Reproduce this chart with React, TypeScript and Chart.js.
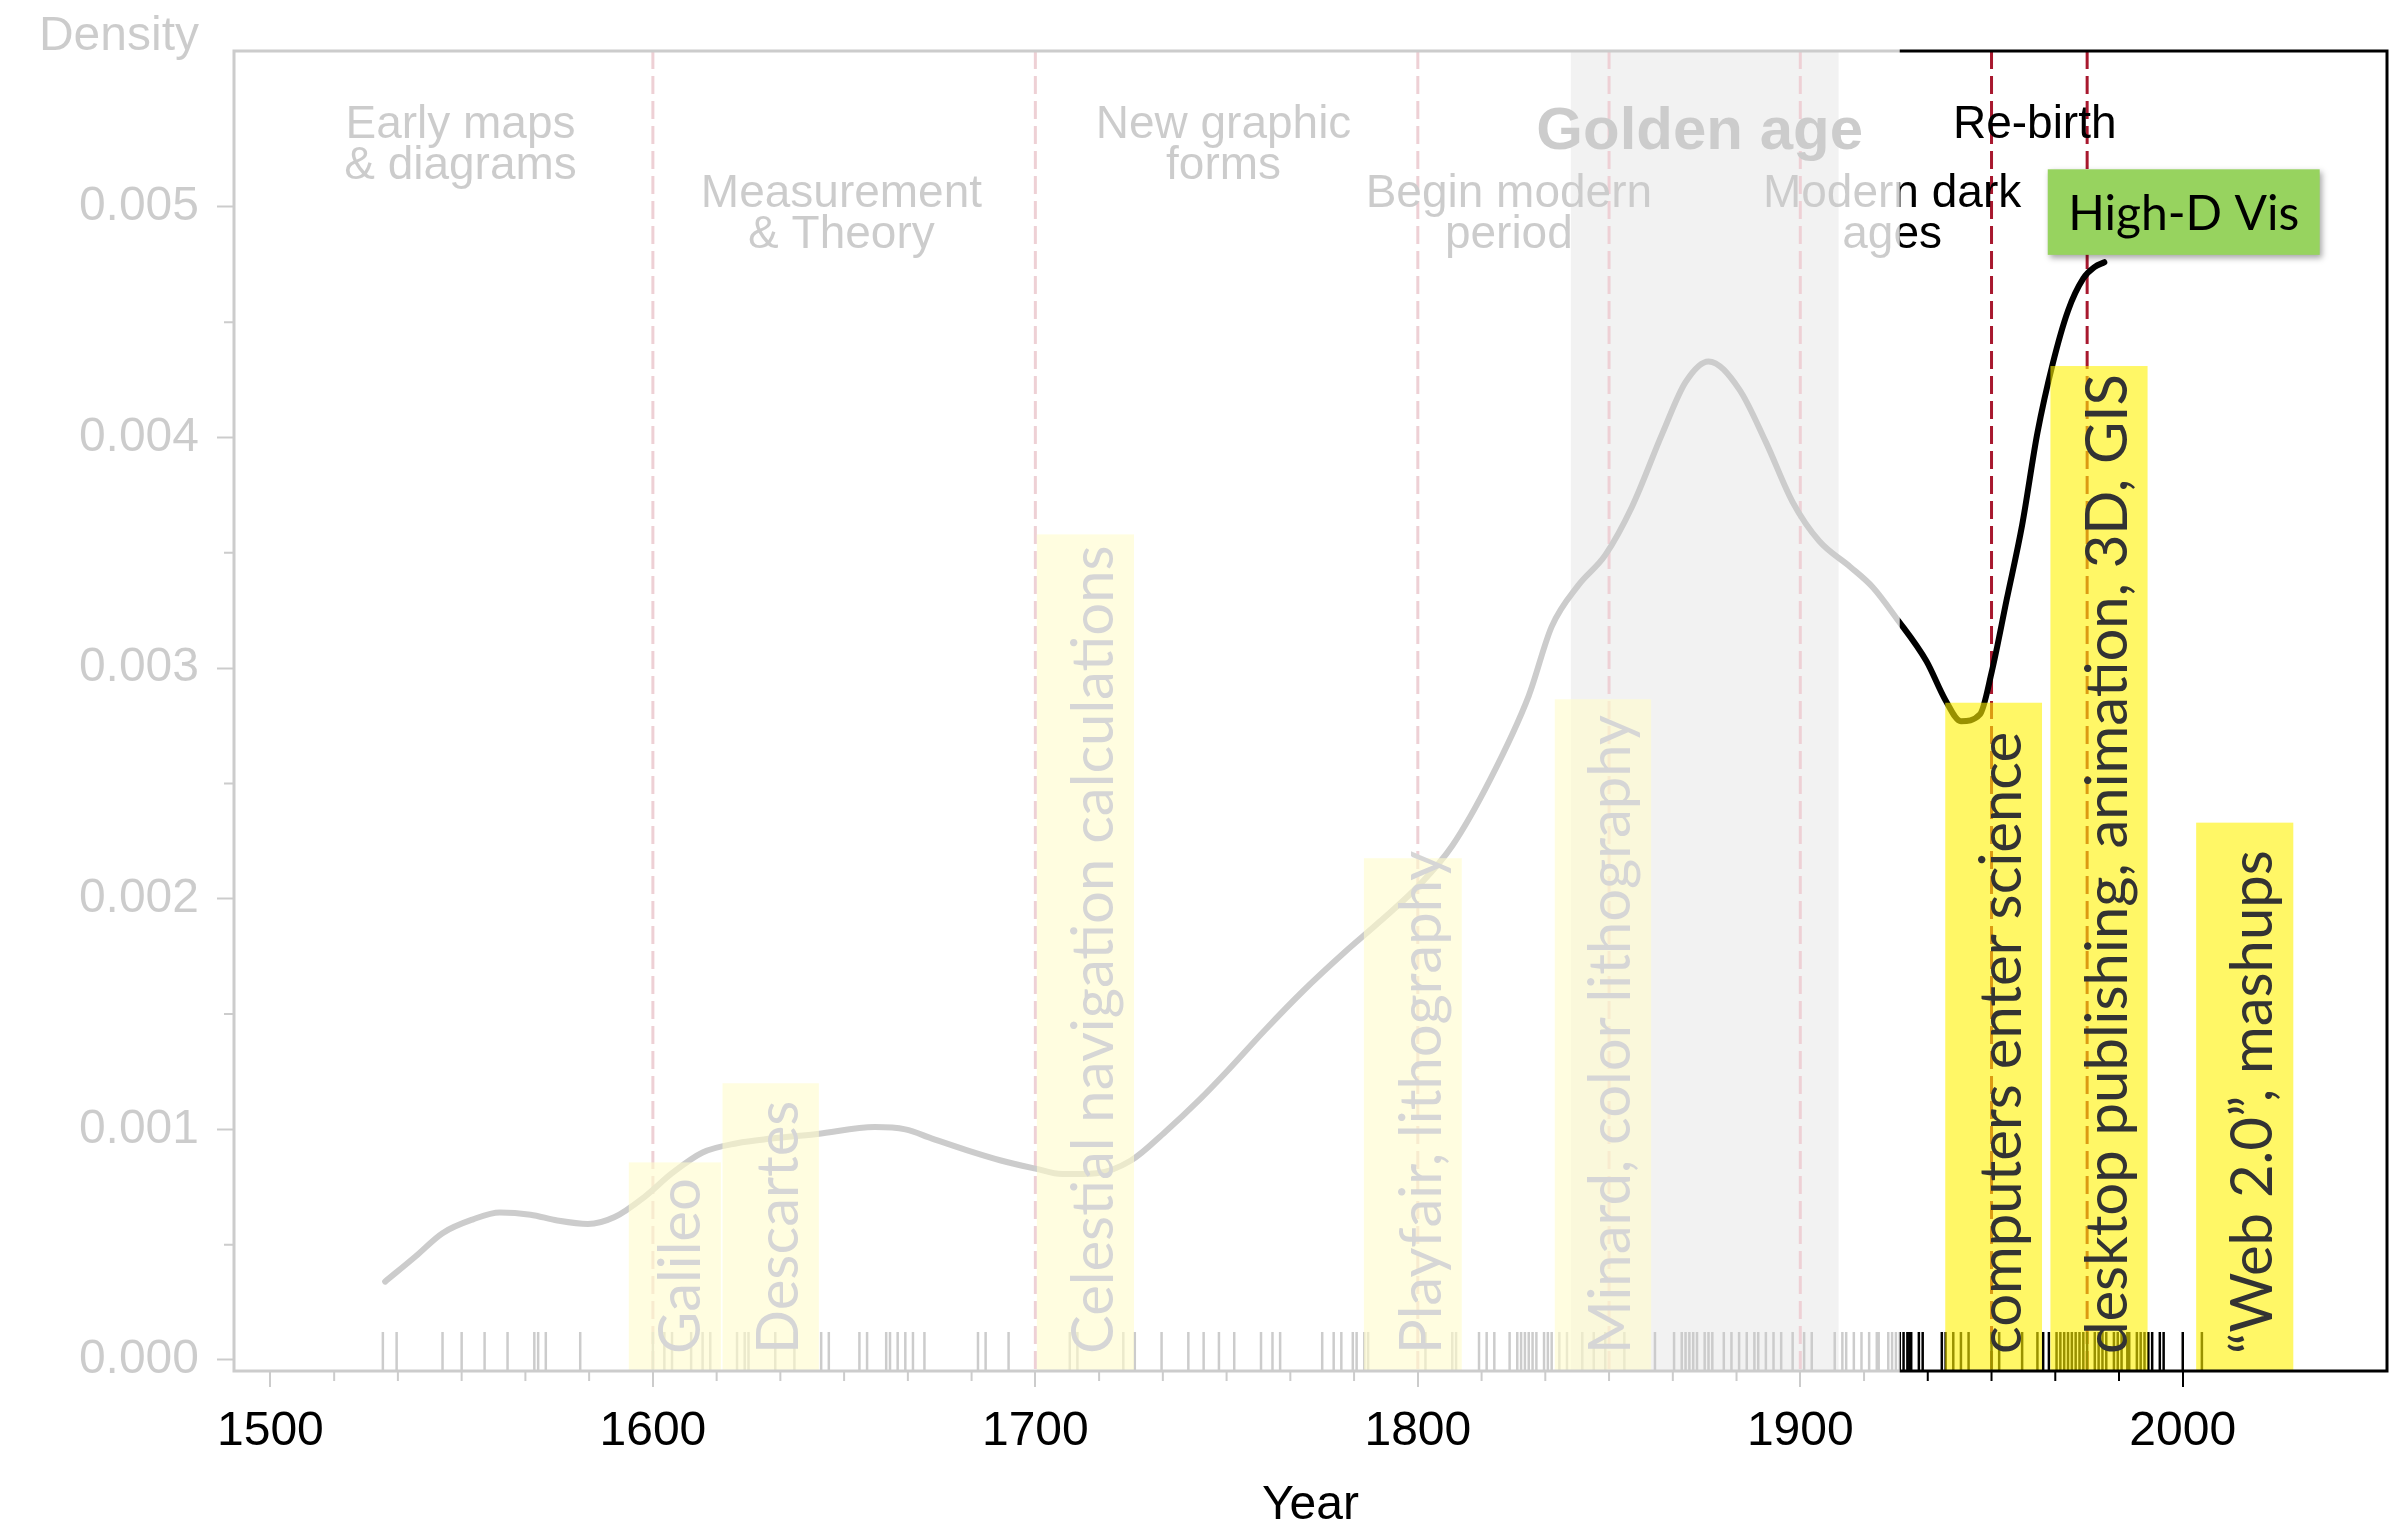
import { useEffect, useRef } from 'react';
import { Chart, registerables } from 'chart.js';

Chart.register(...registerables);

// ---------- data ----------
const CURVE_YEARS = [
  1530, 1538, 1545, 1553, 1560, 1568, 1575, 1583, 1590, 1598, 1605, 1613, 1622, 1631, 1643, 1658,
  1666, 1673, 1682, 1691, 1700, 1707, 1716, 1725, 1734, 1743, 1750, 1760, 1770, 1781, 1790, 1801,
  1809, 1819, 1829, 1835, 1842, 1849, 1856, 1864, 1870, 1876, 1884, 1891, 1898, 1905, 1913, 1919,
  1925, 1933, 1938, 1942, 1947, 1950, 1954, 1958, 1962, 1966, 1970, 1974, 1977, 1979.5,
];
const CURVE_DENSITY = [
  0.00034, 0.00045, 0.00055, 0.00061, 0.00064, 0.00063, 0.000605, 0.00059, 0.00062, 0.00071,
  0.00081, 0.0009, 0.00094, 0.00096, 0.00098, 0.00101, 0.001, 0.00096, 0.00091, 0.000865,
  0.00083, 0.000806, 0.00081, 0.000865, 0.00099, 0.00113, 0.00125, 0.00143, 0.0016, 0.00177,
  0.0019, 0.00207, 0.00223, 0.00252, 0.00288, 0.00318, 0.00336, 0.00349, 0.0037, 0.00402,
  0.00424, 0.00433, 0.00421, 0.00398, 0.00372, 0.00355, 0.00344, 0.00335, 0.00322, 0.00303,
  0.00286, 0.00277, 0.0028, 0.00298, 0.0033, 0.00362, 0.00402, 0.00432, 0.00455, 0.00469,
  0.00474, 0.00476,
];
const EVENT_YEARS = [
  1529.4, 1533, 1545, 1550, 1556, 1562, 1569, 1570, 1572, 1581,
  1600, 1603, 1605, 1610, 1613, 1615, 1622, 1624, 1625, 1632, 1637, 1644, 1646, 1654, 1656,
  1661, 1662, 1664, 1666, 1668, 1671, 1685, 1687, 1693,
  1709, 1711, 1723, 1726, 1733, 1740, 1744, 1748, 1752, 1759, 1762, 1764, 1775, 1778, 1780,
  1783, 1784, 1786, 1787,
  1802, 1809, 1810, 1816, 1818, 1820, 1824, 1826, 1827, 1828, 1829, 1830, 1831, 1833, 1834,
  1835, 1837, 1839, 1843, 1846, 1849, 1854, 1862, 1867, 1869, 1870, 1871, 1872, 1873, 1875,
  1876, 1877, 1880, 1882, 1884, 1886, 1888, 1889,
  1891, 1893, 1895, 1898, 1901, 1903, 1909, 1911, 1912, 1914, 1916, 1918, 1920, 1920.5, 1923,
  1924, 1925,
  1926, 1927, 1928, 1928.5, 1929, 1931, 1932, 1937, 1938, 1940, 1942, 1944, 1950, 1952, 1958,
  1962, 1963.5, 1965, 1967, 1968, 1969, 1970, 1971, 1972, 1973, 1974, 1975, 1977, 1978, 1979,
  1980, 1982, 1983, 1984, 1985.5, 1986, 1988, 1989, 1990, 1991, 1992, 1994, 1995, 2000, 2005,
];
const X_TICK_YEARS = [1500, 1600, 1700, 1800, 1900, 2000];
const X_MINOR_YEARS = [
  1516.67, 1533.33, 1550, 1566.67, 1583.33, 1616.67, 1633.33, 1650, 1666.67, 1683.33,
  1716.67, 1733.33, 1750, 1766.67, 1783.33, 1816.67, 1833.33, 1850, 1866.67, 1883.33,
  1916.67, 1933.33, 1950, 1966.67, 1983.33,
];
const Y_TICK_VALUES = [0, 0.001, 0.002, 0.003, 0.004, 0.005];
const Y_MINOR_VALUES = [0.0005, 0.0015, 0.0025, 0.0035, 0.0045];
const PERIOD_BOUNDARIES = [1600, 1700, 1800, 1850, 1900, 1950, 1975];
const GOLDEN_AGE = [1840, 1910];
const FADE_UNTIL_YEAR = 1926;

const PERIOD_LABELS = [
  { lines: ['Early maps', '& diagrams'], year: 1549.7, row: 0 },
  { lines: ['Measurement', '& Theory'], year: 1649.3, row: 1 },
  { lines: ['New graphic', 'forms'], year: 1749.2, row: 0 },
  { lines: ['Begin modern', 'period'], year: 1823.8, row: 1 },
  { lines: ['Modern dark', 'ages'], year: 1924, row: 1 },
  { lines: ['Re-birth'], year: 1961.3, row: 0 },
];
const GOLDEN_LABEL = { text: 'Golden age', year: 1873.7 };

const NOTE_BOXES = [
  { text: 'Galileo', from: 1593.7, to: 1617.8, top: 0.000857 },
  { text: 'Descartes', from: 1618.2, to: 1643.4, top: 0.0012 },
  { text: 'Celestial navigation calculations', from: 1700.4, to: 1725.8, top: 0.00358 },
  { text: 'Playfair, lithography', from: 1785.9, to: 1811.5, top: 0.002176 },
  { text: 'Minard, color lithography', from: 1835.8, to: 1861, top: 0.002865 },
  { text: 'computers enter science', from: 1937.9, to: 1963.2, top: 0.00285 },
  { text: 'desktop publishing, animation, 3D, GIS', from: 1965.4, to: 1990.8, top: 0.00431 },
  { text: '\u201CWeb 2.0\u201D, mashups', from: 2003.5, to: 2028.9, top: 0.00233 },
];
const HIGHLIGHT = { text: 'High-D Vis', from: 1964.7, to: 2035.8, top: 0.005163, bottom: 0.004792 };

// ---------- layout / style ----------
const X_MIN = 1490.48;
const X_MAX = 2053.4;
const Y_MIN = -0.0000477;
const Y_MAX = 0.005676;
const RUG_Y = 0.0000369;
const ROW_BASELINES = [0.0053, 0.005];
const GOLDEN_BASELINE = 0.005249;
const AXIS_FONT = "'Liberation Sans', Arial, Helvetica, sans-serif";
const NOTE_FONT = "Lato, 'Open Sans', sans-serif";

const annotate = {
  id: 'annotate',
  beforeDatasetsDraw(chart: any) {
    const { ctx, chartArea: a, scales } = chart;
    const x = scales.x;
    ctx.save();
    const g0 = x.getPixelForValue(GOLDEN_AGE[0]);
    const g1 = x.getPixelForValue(GOLDEN_AGE[1]);
    ctx.fillStyle = '#bebebe';
    ctx.fillRect(g0, a.top, g1 - g0, a.bottom - a.top);
    ctx.setLineDash([18, 7]);
    ctx.lineWidth = 3;
    ctx.strokeStyle = '#a8182e';
    for (const yr of PERIOD_BOUNDARIES) {
      const px = x.getPixelForValue(yr);
      ctx.beginPath();
      ctx.moveTo(px, a.top);
      ctx.lineTo(px, a.bottom);
      ctx.stroke();
    }
    ctx.restore();
  },
  afterDatasetsDraw(chart: any) {
    const { ctx, chartArea: a, scales } = chart;
    const x = scales.x;
    const y = scales.y;
    ctx.save();
    // yellow notes
    for (const b of NOTE_BOXES) {
      const x0 = x.getPixelForValue(b.from);
      const x1 = x.getPixelForValue(b.to);
      const top = y.getPixelForValue(b.top);
      ctx.fillStyle = 'rgba(255,242,0,0.6)';
      ctx.fillRect(x0, top, x1 - x0, a.bottom - top);
      ctx.save();
      ctx.translate(x1 - 21, a.bottom - 17);
      ctx.rotate(-Math.PI / 2);
      ctx.fillStyle = '#333333';
      ctx.font = `58px ${NOTE_FONT}`;
      ctx.textAlign = 'left';
      ctx.textBaseline = 'alphabetic';
      ctx.fillText(b.text, 0, 0);
      ctx.restore();
    }
    // period labels
    ctx.fillStyle = '#000';
    ctx.textAlign = 'center';
    ctx.textBaseline = 'alphabetic';
    ctx.font = `46px ${AXIS_FONT}`;
    for (const p of PERIOD_LABELS) {
      const px = x.getPixelForValue(p.year);
      const base = y.getPixelForValue(ROW_BASELINES[p.row]);
      p.lines.forEach((line, i) => ctx.fillText(line, px, base + i * 41));
    }
    ctx.font = `bold 60px ${AXIS_FONT}`;
    ctx.fillText(GOLDEN_LABEL.text, x.getPixelForValue(GOLDEN_LABEL.year), y.getPixelForValue(GOLDEN_BASELINE));
    // High-D Vis box
    {
      const x0 = x.getPixelForValue(HIGHLIGHT.from);
      const x1 = x.getPixelForValue(HIGHLIGHT.to);
      const t = y.getPixelForValue(HIGHLIGHT.top);
      const bt = y.getPixelForValue(HIGHLIGHT.bottom);
      ctx.save();
      ctx.shadowColor = 'rgba(0,0,0,0.35)';
      ctx.shadowBlur = 6;
      ctx.shadowOffsetX = 2;
      ctx.shadowOffsetY = 3;
      ctx.fillStyle = '#97d35f';
      ctx.fillRect(x0, t, x1 - x0, bt - t);
      ctx.restore();
      ctx.fillStyle = '#000';
      ctx.font = `48px ${NOTE_FONT}`;
      ctx.textAlign = 'center';
      ctx.textBaseline = 'middle';
      ctx.fillText(HIGHLIGHT.text, (x0 + x1) / 2, (t + bt) / 2 + 2);
    }
    // plot box
    ctx.strokeStyle = '#000';
    ctx.lineWidth = 3;
    ctx.strokeRect(a.left, a.top, a.right - a.left, a.bottom - a.top);
    // minor ticks
    ctx.lineWidth = 2;
    ctx.beginPath();
    for (const v of X_MINOR_YEARS) {
      const px = x.getPixelForValue(v);
      ctx.moveTo(px, a.bottom);
      ctx.lineTo(px, a.bottom + 10);
    }
    for (const v of Y_MINOR_VALUES) {
      const py = y.getPixelForValue(v);
      ctx.moveTo(a.left - 10, py);
      ctx.lineTo(a.left, py);
    }
    ctx.stroke();
    // Density label
    ctx.fillStyle = '#000';
    ctx.font = `48px ${AXIS_FONT}`;
    ctx.textAlign = 'right';
    ctx.textBaseline = 'alphabetic';
    ctx.fillText('Density', a.left - 35, a.top - 1);
    // fade overlay over the historic part
    ctx.fillStyle = 'rgba(255,255,255,0.8)';
    ctx.fillRect(0, 0, x.getPixelForValue(FADE_UNTIL_YEAR), a.bottom + 28);
    ctx.restore();
  },
};

export default function App() {
  const ref = useRef<HTMLCanvasElement>(null);
  useEffect(() => {
    const canvas = ref.current;
    if (!canvas) return;
    const chart = new Chart(canvas, {
      type: 'line',
      data: {
        datasets: [
          {
            type: 'line',
            data: CURVE_YEARS.map((yr, i) => ({ x: yr, y: CURVE_DENSITY[i] })),
            borderColor: '#000',
            borderWidth: 6,
            borderCapStyle: 'round',
            borderJoinStyle: 'round',
            pointRadius: 0,
            cubicInterpolationMode: 'monotone',
            fill: false,
          },
          {
            type: 'scatter',
            data: EVENT_YEARS.map((yr) => ({ x: yr, y: RUG_Y })),
            pointStyle: 'line',
            pointRadius: 19.5,
            pointRotation: 90,
            borderColor: '#000',
            pointBorderColor: '#000',
            borderWidth: 2.5,
            pointBorderWidth: 2.5,
            showLine: false,
          },
        ] as any,
      },
      options: {
        animation: false,
        responsive: false,
        events: [],
        layout: { autoPadding: false, padding: { top: 51, right: 7, left: 0, bottom: 0 } },
        plugins: { legend: { display: false }, tooltip: { enabled: false } },
        scales: {
          x: {
            type: 'linear',
            position: 'bottom',
            min: X_MIN,
            max: X_MAX,
            afterBuildTicks: (s: any) => {
              s.ticks = X_TICK_YEARS.map((v) => ({ value: v }));
            },
            afterFit: (s: any) => {
              s.height = 160;
              s.paddingLeft = 0;
              s.paddingRight = 0;
            },
            grid: { drawOnChartArea: false, drawTicks: true, tickLength: 16, tickWidth: 2, tickColor: '#000', lineWidth: 2 },
            border: { display: false },
            ticks: {
              z: 1,
              padding: 16,
              color: '#000',
              autoSkip: false,
              maxRotation: 0,
              font: { family: AXIS_FONT, size: 48 },
              callback: (v: any) => String(v),
            },
            title: {
              display: true,
              text: 'Year',
              color: '#000',
              font: { family: AXIS_FONT, size: 48, lineHeight: 1 },
              padding: { top: 0, bottom: 1 },
            },
          },
          y: {
            type: 'linear',
            position: 'left',
            min: Y_MIN,
            max: Y_MAX,
            afterBuildTicks: (s: any) => {
              s.ticks = Y_TICK_VALUES.map((v) => ({ value: v }));
            },
            afterFit: (s: any) => {
              s.width = 234;
              s.paddingTop = 0;
              s.paddingBottom = 0;
            },
            grid: { drawOnChartArea: false, drawTicks: true, tickLength: 17, tickWidth: 2, tickColor: '#000' },
            border: { display: false },
            ticks: {
              padding: 18,
              color: '#000',
              autoSkip: false,
              font: { family: AXIS_FONT, size: 48 },
              callback: (v: any) => Number(v).toFixed(3),
            },
          },
        },
      } as any,
      plugins: [annotate],
    });
    return () => chart.destroy();
  }, []);
  return (
    <canvas
      ref={ref}
      width={2394}
      height={1531}
      style={{ position: 'fixed', left: 0, top: 0, width: '2394px', height: '1531px', display: 'block', background: '#fff' }}
    />
  );
}
